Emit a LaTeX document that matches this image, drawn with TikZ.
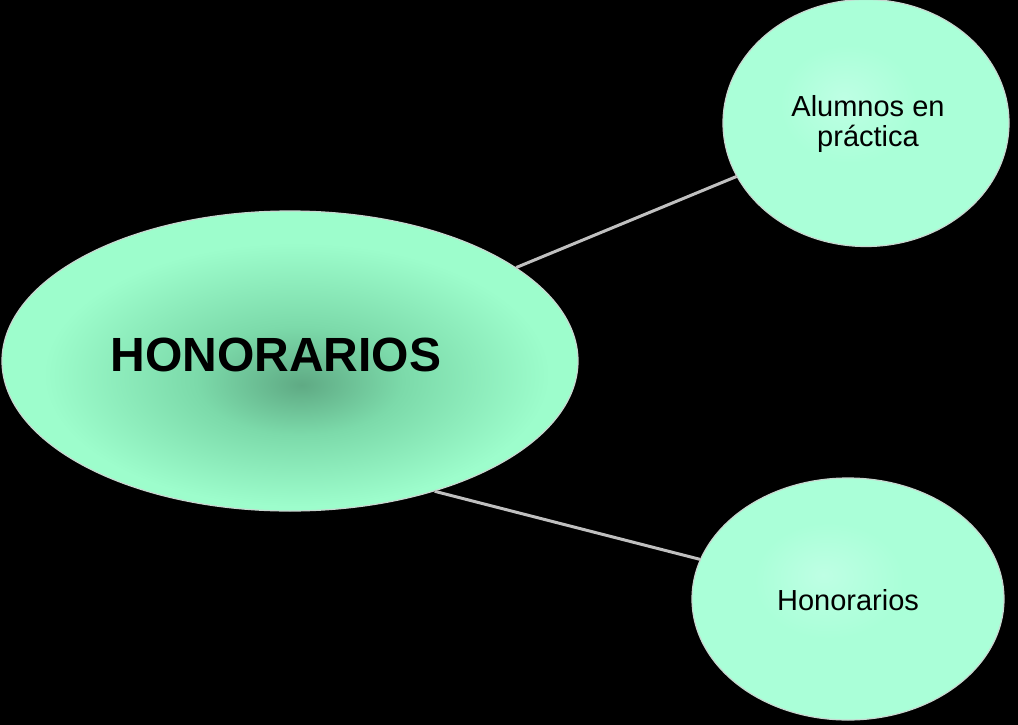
\documentclass[tikz,border=0pt]{standalone}
\usepackage{fontspec}
\setmainfont{Liberation Sans}
\usetikzlibrary{shapes.geometric}
\definecolor{mintedge}{RGB}{157,253,204}
\definecolor{mintmid}{RGB}{124,218,170}
\definecolor{mintdark}{RGB}{95,170,132}
\definecolor{mintlight}{RGB}{170,255,216}
\definecolor{mintpale}{RGB}{190,255,228}
\definecolor{rimcol}{RGB}{200,215,208}
\definecolor{linkcol}{RGB}{192,192,192}
\pgfdeclareradialshading{bigglow}{\pgfpoint{1bp}{-4bp}}{color(0bp)=(mintdark); color(9bp)=(mintmid); color(22bp)=(mintedge); color(50bp)=(mintedge)}
\pgfdeclareradialshading{smallglow}{\pgfpoint{-4bp}{5bp}}{color(0bp)=(mintpale); color(12bp)=(mintlight); color(50bp)=(mintlight)}
\tikzset{
  bubble/.style={ellipse, inner sep=0pt, draw=rimcol, line width=1.2pt},
  bigbubble/.style={bubble, shading=bigglow},
  smallbubble/.style={bubble, shading=smallglow},
  link/.style={draw=linkcol, line width=3pt},
  bigtext/.style={font=\fontsize{48}{57}\selectfont\bfseries, text=black},
  smalltext/.style={font=\fontsize{29}{30}\selectfont, text=black, align=center}
}
\begin{document}
\begin{tikzpicture}[x=1pt,y=-1pt]
\fill[black] (0,0) rectangle (1018,725);
\useasboundingbox (0,0) rectangle (1018,725);
\node[bigbubble, minimum width=576pt, minimum height=300pt] (hon) at (290,361) {};
\node[smallbubble, minimum width=286pt, minimum height=247pt] (alum) at (866,123) {};
\node[smallbubble, minimum width=312pt, minimum height=242pt] (honr) at (848,599) {};
\node[bigtext] (honlabel) at (276,355) {HONORARIOS};
\node[smalltext] (alumlabel) at (868,124) {Alumnos en\\práctica};
\node[smalltext] (honrlabel) at (848,600) {Honorarios};
\draw[link] (hon) -- (alum);
\draw[link] (hon.-42.7) -- (honr.165);
\end{tikzpicture}
\end{document}
